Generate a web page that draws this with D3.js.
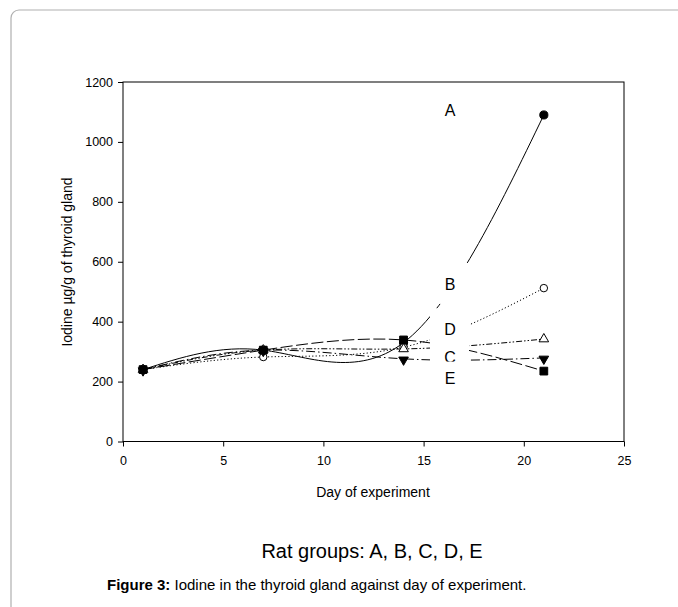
<!DOCTYPE html>
<meta charset="utf-8">
<style>
  body { margin: 0; background: white; }
  svg text { font-family: "Liberation Sans", Arial, sans-serif; fill: #000; }
</style>
<body>
<div id="chart"></div>
<script src="https://d3js.org/d3.v7.min.js"></script>
<script>
// days sampled and iodine values (µg/g) per rat group
const days = [1, 7, 14, 21];
const groupA = [240, 305, 330, 1090];
const groupB = [240, 282, 315, 512];
const groupC = [240, 305, 276, 279];
const groupD = [240, 305, 309, 342];
const groupE = [240, 305, 339, 235];
const xTicks = [0, 5, 10, 15, 20, 25];
const yTicks = [0, 200, 400, 600, 800, 1000, 1200];
// label text and the value each label sits at
const labelNames = ["A", "B", "D", "C", "E"];
const labelValues = [1105, 526, 375, 282, 210];

const width = 678, height = 607;
const svg = d3.select('#chart').append('svg')
    .attr('width', width)
    .attr('height', height);

// outer page frame
svg.append('rect')
    .attr('x', 11).attr('y', 10)
    .attr('width', 700).attr('height', 640)
    .attr('rx', 8)
    .attr('fill', 'none')
    .attr('stroke', '#b0b0b0')
    .attr('stroke-width', 1.2);

const x = d3.scaleLinear().domain([0, 25]).range([123, 624]);
const y = d3.scaleLinear().domain([0, 1200]).range([441.5, 82]);

const series = [
    {name: 'A', values: groupA, dash: null, symbol: d3.symbolCircle, size: 52, fill: '#000', rot: 0},
    {name: 'B', values: groupB, dash: '1.2,2.2', symbol: d3.symbolCircle, size: 44, fill: '#fff', rot: 0},
    {name: 'C', values: groupC, dash: '9,3,1.5,3', symbol: d3.symbolTriangle, size: 40, fill: '#000', rot: 180},
    {name: 'D', values: groupD, dash: '6,2,1.5,2,1.5,2', symbol: d3.symbolTriangle, size: 40, fill: '#fff', rot: 0},
    {name: 'E', values: groupE, dash: '12,3.5', symbol: d3.symbolSquare, size: 60, fill: '#000', rot: 0}
];

// box round the plot
svg.append('rect')
    .attr('x', x(0)).attr('y', y(1200))
    .attr('width', x(25) - x(0)).attr('height', y(0) - y(1200))
    .attr('fill', 'none').attr('stroke', '#000').attr('stroke-width', 1);

const line = d3.line()
    .x(d => x(d[0]))
    .y(d => y(d[1]))
    .curve(d3.curveNatural);

series.forEach(function(s) {
    svg.append('path')
        .datum(days.map((d, i) => [d, s.values[i]]))
        .attr('d', line)
        .attr('fill', 'none')
        .attr('stroke', '#000')
        .attr('stroke-width', 1)
        .attr('stroke-dasharray', s.dash);
});

// label boxes hide the curves behind them (last one is shorter on top)
labelNames.forEach(function(n, i) {
    const cy = y(labelValues[i]);
    const top = i === labelNames.length - 1 ? 17 : 21;
    svg.append('rect')
        .attr('x', 430).attr('y', cy - top)
        .attr('width', 39).attr('height', top + 20)
        .attr('fill', '#fff');
    svg.append('text')
        .attr('x', 450).attr('y', cy)
        .attr('dy', '0.36em')
        .attr('text-anchor', 'middle')
        .style('font-size', '16px')
        .text(n);
});

series.forEach(function(s) {
    svg.selectAll(null)
        .data(days.map((d, i) => [d, s.values[i]]))
        .enter().append('path')
        .attr('d', d3.symbol().type(s.symbol).size(s.size))
        .attr('transform', d => `translate(${x(d[0])},${y(d[1]) + (s.rot ? 1 : 0)}) rotate(${s.rot})`)
        .attr('fill', s.fill)
        .attr('stroke', '#000')
        .attr('stroke-width', 1);
});

// axes
const xAxis = d3.axisBottom(x).tickValues(xTicks).tickSize(5).tickSizeOuter(0).tickFormat(d3.format('d'));
const yAxis = d3.axisLeft(y).tickValues(yTicks).tickSize(5).tickSizeOuter(0).tickFormat(d3.format('d'));
const gx = svg.append('g').attr('transform', `translate(0,${y(0)})`).call(xAxis);
const gy = svg.append('g').attr('transform', `translate(${x(0)},0)`).call(yAxis);
[gx, gy].forEach(function(g) {
    g.select('.domain').remove();
    g.selectAll('.tick line').attr('stroke', '#000');
    g.selectAll('.tick text')
        .style('font-family', '"Liberation Sans", Arial, sans-serif')
        .style('font-size', '12.5px')
        .attr('fill', '#000');
});
gx.selectAll('.tick text').attr('dy', '1.2em');
gy.selectAll('.tick text').attr('x', -10);

svg.append('text')
    .attr('x', 373).attr('y', 497)
    .attr('text-anchor', 'middle')
    .style('font-size', '14px')
    .text('Day of experiment');

svg.append('text')
    .attr('transform', `translate(72,262) rotate(-90)`)
    .attr('text-anchor', 'middle')
    .style('font-size', '14px')
    .text('Iodine µg/g of thyroid gland');

svg.append('text')
    .attr('x', 372).attr('y', 558)
    .attr('text-anchor', 'middle')
    .style('font-size', '20px')
    .text('Rat groups: A, B, C, D, E');

const cap = svg.append('text')
    .attr('x', 107).attr('y', 590)
    .style('font-size', '15px');
cap.append('tspan').style('font-weight', 'bold').text('Figure 3:');
cap.append('tspan').text(' Iodine in the thyroid gland against day of experiment.');
</script>
</body>
